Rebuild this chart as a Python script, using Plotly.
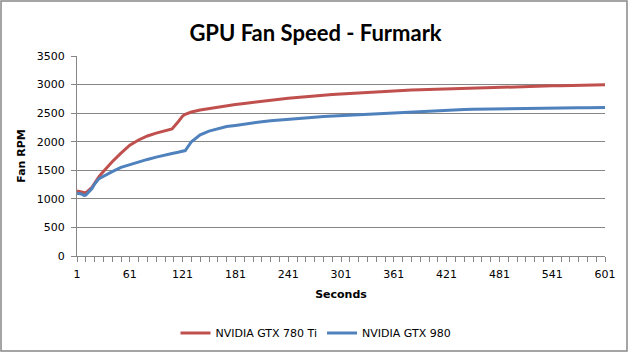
import plotly.graph_objects as go

# Time in seconds (category positions on the x axis)
seconds = [1, 6, 9, 11, 18, 21, 26, 31, 41, 51, 61, 71, 81, 91, 101, 109, 116, 121, 124,
           131, 141, 151, 161, 171, 181, 191, 201, 211, 221, 231, 241, 251, 261, 271, 281,
           291, 301, 311, 321, 331, 341, 351, 361, 371, 381, 391, 401, 411, 421, 431, 441,
           451, 461, 471, 481, 491, 501, 511, 521, 531, 541, 551, 561, 571, 581, 591, 601]

gtx780ti = [1140, 1120, 1110, 1105, 1200, 1280, 1390, 1480, 1650, 1800, 1940, 2030, 2100,
            2150, 2190, 2225, 2350, 2450, 2480, 2520, 2555, 2580, 2610, 2630, 2650, 2670,
            2690, 2705, 2725, 2745, 2760, 2775, 2790, 2800, 2815, 2825, 2835, 2845, 2855,
            2865, 2875, 2885, 2890, 2900, 2905, 2910, 2915, 2920, 2930, 2935, 2940, 2945,
            2950, 2955, 2960, 2965, 2968, 2970, 2972, 2975, 2978, 2980, 2982, 2985, 2988,
            2990, 2995]

gtx980 = [1100, 1085, 1060, 1065, 1180, 1260, 1355, 1400, 1475, 1550, 1600, 1650, 1690,
          1730, 1770, 1795, 1815, 1830, 1845, 2000, 2120, 2185, 2230, 2265, 2285, 2310,
          2330, 2350, 2365, 2380, 2395, 2405, 2420, 2430, 2440, 2448, 2456, 2465, 2475,
          2485, 2495, 2505, 2512, 2520, 2528, 2535, 2540, 2545, 2555, 2560, 2565, 2570,
          2573, 2576, 2580, 2582, 2585, 2587, 2588, 2590, 2591, 2592, 2593, 2594, 2595,
          2596, 2597]

y_ticks = [0, 500, 1000, 1500, 2000, 2500, 3000, 3500]

RED = "#C0504D"
BLUE = "#4F81BD"
GRID = "#868686"
FONT = "DejaVu Sans"

fig = go.Figure()
fig.add_trace(go.Scatter(x=seconds, y=gtx780ti, mode="lines", name="NVIDIA GTX 780 Ti",
                         line=dict(color=RED, width=3)))
fig.add_trace(go.Scatter(x=seconds, y=gtx980, mode="lines", name="NVIDIA GTX 980",
                         line=dict(color=BLUE, width=3)))

W, H = 631, 352
L, R, T, B = 77, 26, 56, 96
pw, ph = W - L - R, H - T - B

def px(xp):
    return (xp - L) / pw

def py(yp):
    return (H - B - yp) / ph

fig.update_layout(
    width=W, height=H,
    margin=dict(l=L, r=R, t=T, b=B, autoexpand=False),
    paper_bgcolor="white", plot_bgcolor="white",
    title=dict(text="<b>GPU Fan Speed - Furmark</b>", x=0.5, xanchor="center",
               y=1 - 33 / H, yanchor="middle",
               font=dict(family="Lato", size=22, color="black")),
    font=dict(family=FONT, size=11, color="black"),
    showlegend=True,
    legend=dict(orientation="h", x=px(316), xanchor="center", y=py(333), yanchor="middle",
                font=dict(family=FONT, size=11, color="black"),
                itemwidth=30, tracegroupgap=0),
    xaxis=dict(range=[1, 601], tickmode="linear", tick0=1, dtick=60,
               ticks="outside", ticklen=5, tickcolor=GRID, showline=True, linecolor=GRID,
               linewidth=1, showgrid=False, zeroline=False, ticklabelstandoff=3,
               minor=dict(tick0=1, dtick=10, ticks="outside", ticklen=5, tickcolor=GRID),
               tickfont=dict(family=FONT, size=11, color="black"),
               title=dict(text="<b>Seconds</b>", standoff=10,
                          font=dict(family=FONT, size=11, color="black"))),
    yaxis=dict(range=[0, 3500], tickvals=y_ticks, ticks="outside", ticklen=5,
               tickcolor=GRID, showline=True, linecolor=GRID, linewidth=1,
               showgrid=True, gridcolor=GRID, gridwidth=1, zeroline=False,
               ticklabelstandoff=4,
               tickfont=dict(family=FONT, size=11, color="black"),
               title=dict(text="<b>Fan RPM</b>", standoff=8,
                          font=dict(family=FONT, size=11, color="black"))),
    shapes=[dict(type="rect", xref="paper", yref="paper",
                 x0=px(1), x1=px(627), y0=py(351), y1=py(1),
                 line=dict(color="#888888", width=1.5), fillcolor="rgba(0,0,0,0)",
                 layer="above")],
)

fig.write_html("out.html")
